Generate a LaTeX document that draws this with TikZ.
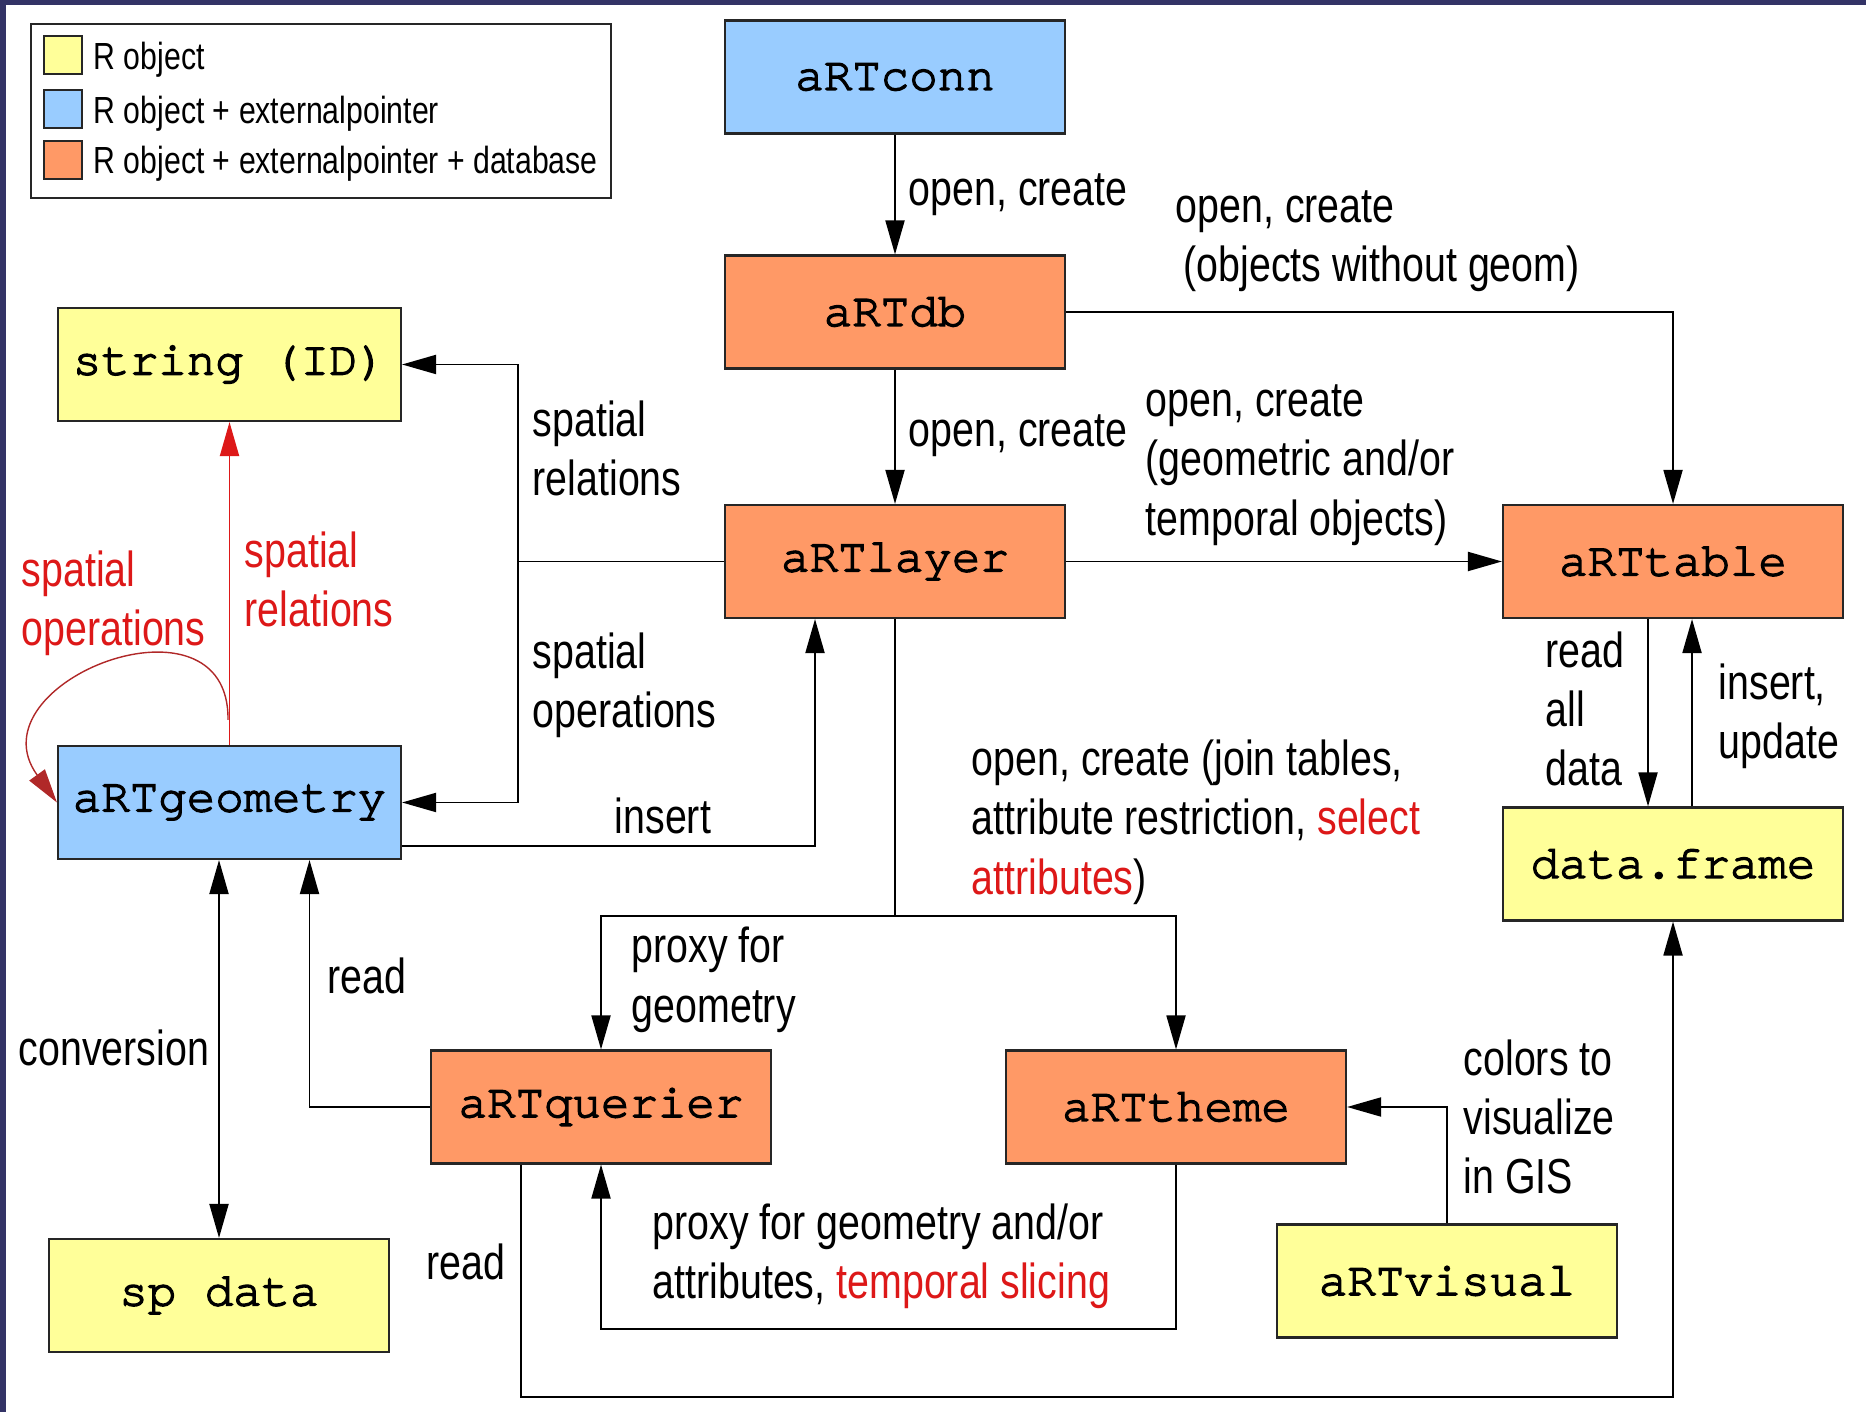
\documentclass[tikz,border=0pt]{standalone}
\usepackage{fontspec}
\setmainfont{Liberation Sans}[FakeStretch=0.80]
\setmonofont{TeX Gyre Cursor}[FakeBold=3]
\usepackage{tikz}
\tikzset{>=latex}
\usetikzlibrary{arrows.meta}
\usetikzlibrary{calc}
\definecolor{frameblue}{RGB}{51,51,102}
\definecolor{objyellow}{RGB}{255,255,153}
\definecolor{ptrblue}{RGB}{153,204,255}
\definecolor{dborange}{RGB}{255,153,102}
\definecolor{artred}{RGB}{221,24,24}
\definecolor{loopred}{RGB}{176,40,40}

\tikzset{
  cls/.style={draw=black!85, line width=0.6pt, minimum width=3.4cm, minimum height=1.13cm, inner sep=0pt, font=\ttfamily\fontsize{13.5}{16}\selectfont},
  objbox/.style={cls, fill=objyellow},
  ptrbox/.style={cls, fill=ptrblue},
  dbbox/.style={cls, fill=dborange},
  lbl/.style={anchor=west, align=left, inner sep=0pt, font=\fontsize{14}{16.9}\selectfont},
  keybox/.style={draw=black!85, line width=0.6pt, minimum size=0.38cm, inner sep=0pt},
  keytxt/.style={anchor=west, inner sep=0pt, font=\fontsize{10.75}{12}\selectfont},
  wire/.style={line width=0.55pt},
  link/.style={wire, ->},
}

\begin{document}
\begin{tikzpicture}[x=1cm,y=1cm,>={Triangle[length=0.34cm,width=0.19cm]}]
		\useasboundingbox (0,0) rectangle (18.66,14.12);
		\fill[frameblue] (0,14.07) rectangle (18.66,14.12);
		\fill[frameblue] (0,0) rectangle (0.06,14.12);
		% legend
		\draw[black!85, line width=0.6pt] (0.31,12.14) rectangle (6.11,13.88);
		\node[keybox, fill=objyellow] (key1) at (0.63,13.57) {};
		\node[keybox, fill=ptrblue] (key2) at (0.63,13.03) {};
		\node[keybox, fill=dborange] (key3) at (0.63,12.52) {};
		\node[keytxt] (keytxt1) at (0.93,13.52) {R object};
		\node[keytxt] (keytxt2) at (0.93,12.98) {R object + externalpointer};
		\node[keytxt] (keytxt3) at (0.93,12.48) {R object + externalpointer + database};
		% classes
		\node[ptrbox] (conn) at (8.95,13.35) {aRTconn};
		\node[dbbox] (db) at (8.95,11.00) {aRTdb};
		\node[dbbox] (layer) at (8.95,8.505) {aRTlayer};
		\node[dbbox] (table) at (16.73,8.505) {aRTtable};
		\node[objbox] (dframe) at (16.73,5.48) {data.frame};
		\node[objbox, minimum width=3.43cm] (strid) at (2.295,10.475) {string (ID)};
		\node[ptrbox, minimum width=3.43cm] (geom) at (2.295,6.095) {aRTgeometry};
		\node[objbox] (spdata) at (2.19,1.165) {sp data};
		\node[dbbox] (querier) at (6.01,3.05) {aRTquerier};
		\node[dbbox] (theme) at (11.76,3.05) {aRTtheme};
		\node[objbox] (visual) at (14.47,1.31) {aRTvisual};
		% connectors
		\draw[link] (conn) -- (db);
		\draw[link] (db) -- (layer);
		\draw[link] (db.east) -| (table.north);
		\draw[link] (layer) -- (table);
		\coordinate (split) at (5.18,8.505);
		\draw[wire] (layer.west) -- (split);
		\draw[link] (split) |- (strid.east);
		\draw[link] (split) |- (geom.east);
		\draw[link] ([yshift=-0.435cm]geom.east) -| ([xshift=-0.8cm]layer.south);
		\coordinate (fork) at (8.95,4.96);
		\draw[wire] (layer.south) -- (fork);
		\draw[link] (fork) -| (querier.north);
		\draw[link] (fork) -| (theme.north);
		\draw[link, artred] (geom) -- (strid);
		\coordinate (loopstart) at (2.28,6.92);
		\draw[link, loopred, line width=0.4pt] (loopstart) .. controls (2.3,8.3) and (-0.3,7.3) .. (geom.west);
		\draw[wire, <->] (spdata.north) -- (spdata.north |- geom.south);
		\draw[link] (querier.west) -| ([xshift=0.8cm]geom.south);
		\draw[link] (theme.south) -- ++(0,-1.645) -| (querier.south);
		\draw[link] ([xshift=-0.8cm]querier.south) -- ++(0,-2.325) -| (dframe.south);
		\draw[link] (visual.north) |- (theme.east);
		\draw[link] ([xshift=-0.25cm]table.south) -- ([xshift=-0.25cm]dframe.north);
		\draw[link] ([xshift=0.19cm]dframe.north) -- ([xshift=0.19cm]table.south);
		% labels
		\node[lbl] (l-conn) at (9.08,12.17) {open, create};
		\node[lbl] (l-dbtable) at (11.75,11.71) {open, create\\\hspace*{0.08cm}(objects without geom)};
		\node[lbl] (l-dblayer) at (9.08,9.76) {open, create};
		\node[lbl] (l-layertable) at (11.45,9.47) {open, create\\(geometric and/or\\temporal objects)};
		\node[lbl] (l-rel) at (5.32,9.635) {spatial\\relations};
		\node[lbl] (l-ops) at (5.32,7.265) {spatial\\operations};
		\node[lbl] (l-insert) at (6.14,5.96) {insert};
		\node[lbl] (l-fork) at (9.71,5.90) {open, create (join tables,\\attribute restriction, \textcolor{artred}{select}\\\textcolor{artred}{attributes})};
		\node[lbl] (l-proxy) at (6.31,4.32) {proxy for\\geometry};
		\node[lbl] (l-read) at (3.27,4.36) {read};
		\node[lbl] (l-conv) at (0.18,3.64) {conversion};
		\node[lbl, text=artred] (l-redrel) at (2.44,8.325) {spatial\\relations};
		\node[lbl, text=artred] (l-redops) at (0.21,8.085) {spatial\\operations};
		\node[lbl] (l-readdf) at (4.26,1.50) {read};
		\node[lbl] (l-slice) at (6.52,1.555) {proxy for geometry and/or\\attributes, \textcolor{artred}{temporal slicing}};
		\node[lbl] (l-colors) at (14.63,2.95) {colors to\\visualize\\in GIS};
		\node[lbl] (l-readall) at (15.45,7.03) {read\\all\\data};
		\node[lbl] (l-update) at (17.18,6.955) {insert,\\update};
\end{tikzpicture}
\end{document}
